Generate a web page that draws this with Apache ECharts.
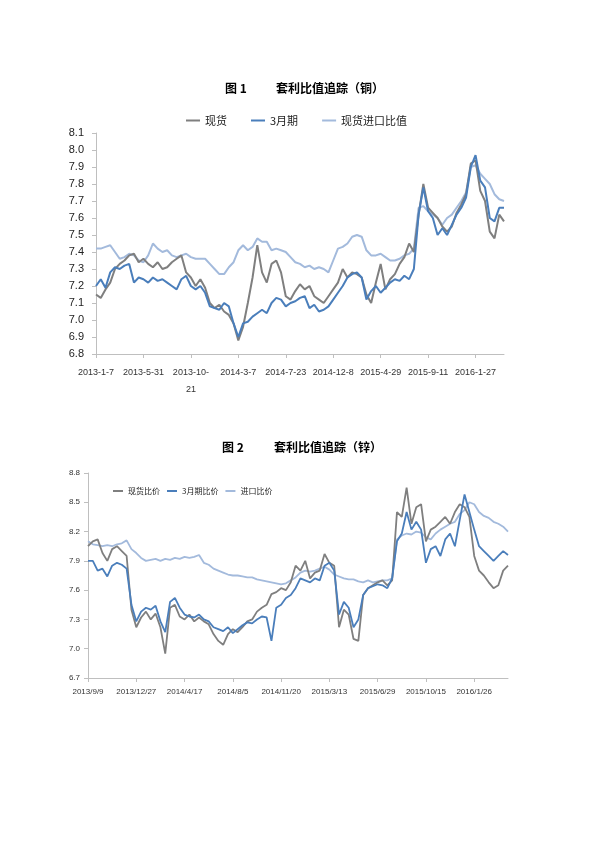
<!DOCTYPE html>
<html lang="zh">
<head>
<meta charset="UTF-8">
<title>套利比值追踪</title>
<script src="https://cdn.jsdelivr.net/npm/echarts@6/dist/echarts.min.js"></script>
<style>
  html, body { margin: 0; padding: 0; background: #fff; }
  #main { width: 595px; height: 842px; }
</style>
</head>
<body>
<div id="main"></div>
<script type="text/javascript">

// 图1 铜：每10个点一个日期刻度
const cuTicks = ['2013-1-7', '2013-5-31', '2013-10-\n21', '2014-3-7', '2014-7-23', '2014-12-8', '2015-4-29', '2015-9-11', '2016-1-27'];
const cuSpot = [7.15,7.13,7.18,7.22,7.30,7.33,7.35,7.38,7.39,7.34,
  7.36,7.33,7.31,7.34,7.30,7.31,7.34,7.36,7.38,7.28,
  7.25,7.20,7.24,7.19,7.10,7.07,7.09,7.05,7.03,6.98,
  6.88,6.96,7.10,7.25,7.44,7.28,7.22,7.33,7.35,7.28,
  7.14,7.12,7.17,7.21,7.18,7.20,7.14,7.12,7.10,7.14,
  7.18,7.22,7.30,7.25,7.28,7.27,7.25,7.15,7.10,7.22,
  7.33,7.18,7.24,7.27,7.33,7.37,7.45,7.40,7.62,7.80,
  7.66,7.63,7.60,7.55,7.52,7.55,7.63,7.68,7.74,7.92,
  7.94,7.76,7.70,7.52,7.48,7.62,7.58];
const cuFut = [7.20,7.24,7.19,7.28,7.31,7.30,7.32,7.33,7.22,7.25,
  7.24,7.22,7.25,7.23,7.24,7.22,7.20,7.18,7.24,7.26,
  7.20,7.18,7.20,7.16,7.08,7.07,7.06,7.10,7.08,6.98,
  6.90,6.98,6.99,7.02,7.04,7.06,7.04,7.10,7.13,7.12,
  7.08,7.10,7.11,7.13,7.14,7.07,7.09,7.05,7.06,7.08,
  7.12,7.16,7.20,7.25,7.27,7.28,7.25,7.12,7.17,7.20,
  7.16,7.19,7.22,7.24,7.23,7.26,7.24,7.30,7.62,7.78,
  7.64,7.60,7.50,7.54,7.50,7.56,7.62,7.66,7.72,7.90,
  7.97,7.82,7.78,7.60,7.58,7.66,7.66];
const cuImport = [7.42,7.42,7.43,7.44,7.40,7.36,7.37,7.39,7.38,7.35,
  7.34,7.38,7.45,7.42,7.40,7.41,7.38,7.37,7.38,7.39,
  7.37,7.36,7.36,7.36,7.33,7.30,7.27,7.27,7.31,7.34,
  7.41,7.44,7.41,7.43,7.48,7.46,7.46,7.41,7.42,7.41,
  7.40,7.37,7.34,7.33,7.31,7.32,7.30,7.31,7.30,7.28,
  7.35,7.42,7.43,7.45,7.49,7.50,7.49,7.41,7.38,7.38,
  7.39,7.37,7.35,7.35,7.36,7.38,7.39,7.42,7.66,7.67,
  7.64,7.62,7.60,7.56,7.60,7.62,7.66,7.70,7.75,7.90,
  7.91,7.86,7.83,7.80,7.74,7.71,7.70];

// 图2 锌
const znTicks = ['2013/9/9', '2013/12/27', '2014/4/17', '2014/8/5', '2014/11/20', '2015/3/13', '2015/6/29', '2015/10/15', '2016/1/26'];
const znSpot = [8.05,8.10,8.12,7.98,7.90,8.02,8.05,8.00,7.95,7.40,
  7.22,7.32,7.38,7.30,7.36,7.22,6.95,7.42,7.45,7.33,
  7.30,7.35,7.28,7.32,7.28,7.25,7.15,7.08,7.04,7.15,
  7.20,7.17,7.22,7.28,7.30,7.38,7.42,7.45,7.56,7.58,
  7.62,7.60,7.68,7.85,7.80,7.90,7.72,7.78,7.80,7.97,
  7.88,7.85,7.22,7.40,7.35,7.10,7.08,7.55,7.62,7.65,
  7.68,7.70,7.65,7.70,8.40,8.35,8.65,8.28,8.45,8.48,
  8.10,8.22,8.25,8.30,8.35,8.28,8.40,8.48,8.45,8.35,
  7.95,7.80,7.75,7.68,7.62,7.65,7.80,7.85];
const znFut = [7.90,7.90,7.80,7.82,7.74,7.85,7.88,7.86,7.82,7.45,
  7.28,7.38,7.42,7.40,7.44,7.28,7.17,7.48,7.52,7.42,
  7.35,7.33,7.32,7.35,7.30,7.28,7.22,7.20,7.18,7.22,
  7.16,7.20,7.24,7.27,7.26,7.30,7.33,7.32,7.08,7.42,
  7.45,7.52,7.55,7.62,7.72,7.70,7.68,7.72,7.70,7.85,
  7.88,7.80,7.35,7.48,7.42,7.22,7.30,7.55,7.62,7.64,
  7.66,7.65,7.62,7.72,8.10,8.18,8.40,8.22,8.30,8.22,
  7.88,8.02,8.05,7.95,8.12,8.18,8.05,8.32,8.58,8.40,
  8.22,8.05,8.00,7.95,7.90,7.95,8.00,7.96];
const znImport = [8.10,8.07,8.06,8.05,8.06,8.05,8.07,8.08,8.11,8.02,
  7.98,7.93,7.90,7.91,7.92,7.90,7.92,7.91,7.93,7.92,
  7.94,7.93,7.94,7.96,7.88,7.86,7.82,7.80,7.78,7.76,
  7.75,7.75,7.74,7.73,7.73,7.71,7.70,7.69,7.68,7.67,
  7.66,7.67,7.70,7.73,7.78,7.80,7.79,7.80,7.82,7.84,
  7.81,7.76,7.74,7.72,7.71,7.71,7.69,7.68,7.70,7.68,
  7.69,7.70,7.70,7.72,8.12,8.16,8.18,8.17,8.20,8.19,
  8.14,8.12,8.18,8.22,8.25,8.28,8.30,8.38,8.42,8.50,
  8.48,8.40,8.36,8.34,8.30,8.28,8.25,8.20];
const znYTicks = [6.7, 7.0, 7.3, 7.6, 7.9, 8.2, 8.5, 8.8];

const STEP = 10; // 每个刻度间隔的点数
const font = '"Noto Sans CJK SC", "Liberation Sans", sans-serif';
const numFont = '"Liberation Sans", "Noto Sans CJK SC", sans-serif';
const GRAY = '#7f7f7f', BLUE = '#4a7ebb', LIGHT = '#a3badc';
const axisGray = '#bfbfbf';

function makeCats(ticks, n) {
  const out = [];
  for (let i = 0; i < n; i++) {
    out.push(i % STEP === 0 && ticks[i / STEP] !== undefined ? ticks[i / STEP] : '');
  }
  return out;
}

function line(name, data, color, idx, width) {
  return {
    name: name, type: 'line', data: data,
    xAxisIndex: idx, yAxisIndex: idx,
    symbol: 'none', smooth: false,
    lineStyle: {color: color, width: width},
    itemStyle: {color: color},
    emphasis: {disabled: true}
  };
}

const myChart = echarts.init(document.getElementById('main'));

const titleStyle = {fontSize: 12, fontWeight: 'bold', color: '#000', fontFamily: font};

const option = {
  animation: false,
  backgroundColor: '#fff',
  title: [
    {text: '图 1', left: 225, top: 82, padding: 0, textStyle: titleStyle},
    {text: '套利比值追踪（铜）', left: 276, top: 82, padding: 0, textStyle: titleStyle},
    {text: '图 2', left: 222, top: 441, padding: 0, textStyle: titleStyle},
    {text: '套利比值追踪（锌）', left: 274, top: 441, padding: 0, textStyle: titleStyle}
  ],
  legend: [
    {
      data: ['现货', '3月期', '现货进口比值'],
      left: 186, top: 115, padding: 0,
      icon: 'rect', itemWidth: 14, itemHeight: 2, itemGap: 24,
      textStyle: {fontSize: 11, color: '#222', fontFamily: font}
    },
    {
      data: ['现货比价', '3月期比价', '进口比价'],
      left: 113, top: 487, padding: 0,
      icon: 'rect', itemWidth: 10, itemHeight: 2, itemGap: 7,
      textStyle: {fontSize: 8, color: '#222', fontFamily: font}
    }
  ],
  grid: [
    {left: 96, right: 91, top: 133, height: 221, containLabel: false},
    {left: 88, right: 87, top: 473, height: 205, containLabel: false}
  ],
  xAxis: [
    {
      type: 'category', gridIndex: 0, boundaryGap: false,
      data: makeCats(cuTicks, cuSpot.length),
      axisLine: {lineStyle: {color: axisGray, width: 1}},
      axisTick: {show: true, interval: STEP - 1, length: 4, lineStyle: {color: axisGray}},
      axisLabel: {interval: STEP - 1, margin: 10, fontSize: 9, color: '#333', fontFamily: numFont, lineHeight: 17},
      splitLine: {show: false}
    },
    {
      type: 'category', gridIndex: 1, boundaryGap: false,
      data: makeCats(znTicks, znSpot.length),
      axisLine: {lineStyle: {color: axisGray, width: 1}},
      axisTick: {show: true, interval: STEP - 1, length: 4, lineStyle: {color: axisGray}},
      axisLabel: {interval: STEP - 1, margin: 10, fontSize: 8, color: '#333', fontFamily: numFont},
      splitLine: {show: false}
    }
  ],
  yAxis: [
    {
      type: 'value', gridIndex: 0, min: 6.8, max: 8.1, interval: 0.1,
      axisLine: {show: true, lineStyle: {color: axisGray}},
      axisTick: {show: true, length: 4, lineStyle: {color: axisGray}},
      axisLabel: {margin: 12, fontSize: 11, color: '#222', fontFamily: numFont,
        formatter: function (v) { return v.toFixed(1); }},
      splitLine: {show: false}
    },
    {
      type: 'value', gridIndex: 1, min: 6.7, max: 8.8,
      axisLine: {show: true, lineStyle: {color: axisGray}},
      axisTick: {show: true, length: 4, customValues: znYTicks, lineStyle: {color: axisGray}},
      axisLabel: {margin: 8, fontSize: 8, color: '#333', fontFamily: numFont, customValues: znYTicks,
        formatter: function (v) { return v.toFixed(1); }},
      splitLine: {show: false}
    }
  ],
  series: [
    line('现货进口比值', cuImport, LIGHT, 0, 2),
    line('现货', cuSpot, GRAY, 0, 2),
    line('3月期', cuFut, BLUE, 0, 2),
    line('进口比价', znImport, LIGHT, 1, 1.8),
    line('现货比价', znSpot, GRAY, 1, 1.8),
    line('3月期比价', znFut, BLUE, 1, 1.8)
  ]
};

myChart.setOption(option);
</script>
</body>
</html>
